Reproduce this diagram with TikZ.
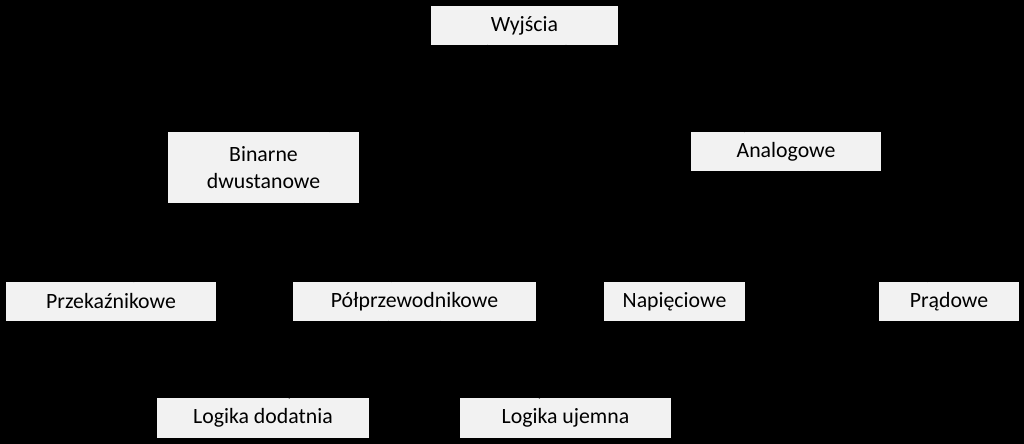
\documentclass[tikz,border=0pt]{standalone}
\usepackage{fontspec}
\setmainfont{Carlito}
\usepackage{tikz}
\usetikzlibrary{arrows.meta,positioning}
\definecolor{boxgrey}{RGB}{242,242,242}

\begin{document}
\begin{tikzpicture}[
    x=0.025cm, y=-0.025cm,
    box/.style={rectangle, fill=boxgrey, inner sep=0pt,
        minimum height=0.975cm, align=center, font=\fontsize{15.5}{19}\selectfont},
    link/.style={thick, black}
]
\fill[black] (0,0) rectangle (1024,444);
\useasboundingbox (0,0) rectangle (1024,444);

\node[box, minimum width=4.68cm] (out) at (524.5,25.5) {Wyjścia};
\node[box, minimum width=4.78cm, minimum height=1.78cm] (bin) at (263.5,167.5) {Binarne\\dwustanowe};
\node[box, minimum width=4.75cm] (ana) at (786,151.5) {Analogowe};
\node[box, minimum width=5.25cm] (rel) at (111,301.5) {Przekaźnikowe};
\node[box, minimum width=6.08cm] (semi) at (414.5,301.5) {Półprzewodnikowe};
\node[box, minimum width=3.53cm] (volt) at (674.5,301.5) {Napięciowe};
\node[box, minimum width=3.5cm] (curr) at (949,301.5) {Prądowe};
\node[box, minimum width=5.3cm] (pos) at (263,418) {Logika dodatnia};
\node[box, minimum width=5.28cm] (neg) at (565.5,418) {Logika ujemna};

\draw[link] (out) -- (bin);
\draw[link] (out) -- (ana);
\draw[link] (bin) -- (rel);
\draw[link] (bin) -- (semi);
\draw[link] (ana) -- (volt);
\draw[link] (ana) -- (curr);
\draw[link] (semi) -- (pos);
\draw[link] (semi) -- (neg);
\end{tikzpicture}
\end{document}
